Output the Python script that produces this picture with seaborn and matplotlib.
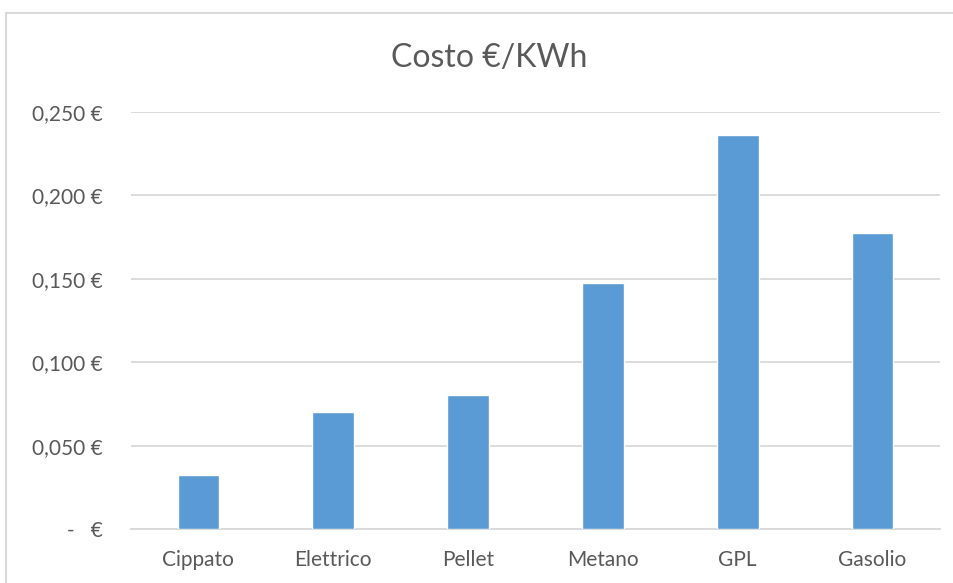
import matplotlib
matplotlib.use("Agg")
import matplotlib.pyplot as plt
import seaborn as sns
import pandas as pd
from matplotlib.patches import Rectangle

# --- dati ---
CATEGORIE = ["Cippato", "Elettrico", "Pellet", "Metano", "GPL", "Gasolio"]
COSTO = [0.0322, 0.0700, 0.0801, 0.1477, 0.2362, 0.1777]
Y_TICKS = [0.0, 0.05, 0.10, 0.15, 0.20, 0.25]
Y_LABELS = ["-   €", "0,050 €", "0,100 €", "0,150 €", "0,200 €", "0,250 €"]
TITOLO = "Costo €/KWh"

BLU = "#5b9bd5"
GRIGIO_TESTO = "#595959"
GRIGIO_LINEE = "#d9d9d9"

sns.set_theme(style="white")
plt.rcParams["font.family"] = ["Lato", "DejaVu Sans"]

df = pd.DataFrame({"fonte": CATEGORIE, "costo": COSTO})

fig = plt.figure(figsize=(9.54, 5.83), dpi=100)
ax = fig.add_axes([131 / 954, 1 - 529 / 583, 809 / 954, 417 / 583])

sns.barplot(data=df, x="fonte", y="costo", color=BLU, width=0.31,
            saturation=1, ax=ax, zorder=3)

ax.set_ylim(0, 0.25)
ax.set_xlim(-0.5, len(CATEGORIE) - 0.5)
ax.set_yticks(Y_TICKS)
ax.set_yticklabels(Y_LABELS)
ax.set_xlabel("")
ax.set_ylabel("")
ax.grid(axis="y", color=GRIGIO_LINEE, linewidth=1.3, zorder=0)
ax.grid(axis="x", visible=False)
for s in ["top", "left", "right"]:
    ax.spines[s].set_visible(False)
ax.spines["bottom"].set_color(GRIGIO_LINEE)
ax.spines["bottom"].set_linewidth(1.3)
ax.tick_params(axis="both", length=0, labelsize=15, colors=GRIGIO_TESTO)
ax.tick_params(axis="y", pad=20)
ax.tick_params(axis="x", pad=15)

fig.text(489 / 954, 1 - 58 / 583, TITOLO, ha="center", va="center",
         fontsize=23, color=GRIGIO_TESTO)

# cornice del grafico (tagliata a destra e in basso)
fig.patches.append(Rectangle((6 / 954, -0.1), 1.0, 1 - 13 / 583 + 0.1,
                             transform=fig.transFigure, fill=False,
                             edgecolor=GRIGIO_LINEE, linewidth=1.5))

fig.savefig("out.png", dpi=100)
